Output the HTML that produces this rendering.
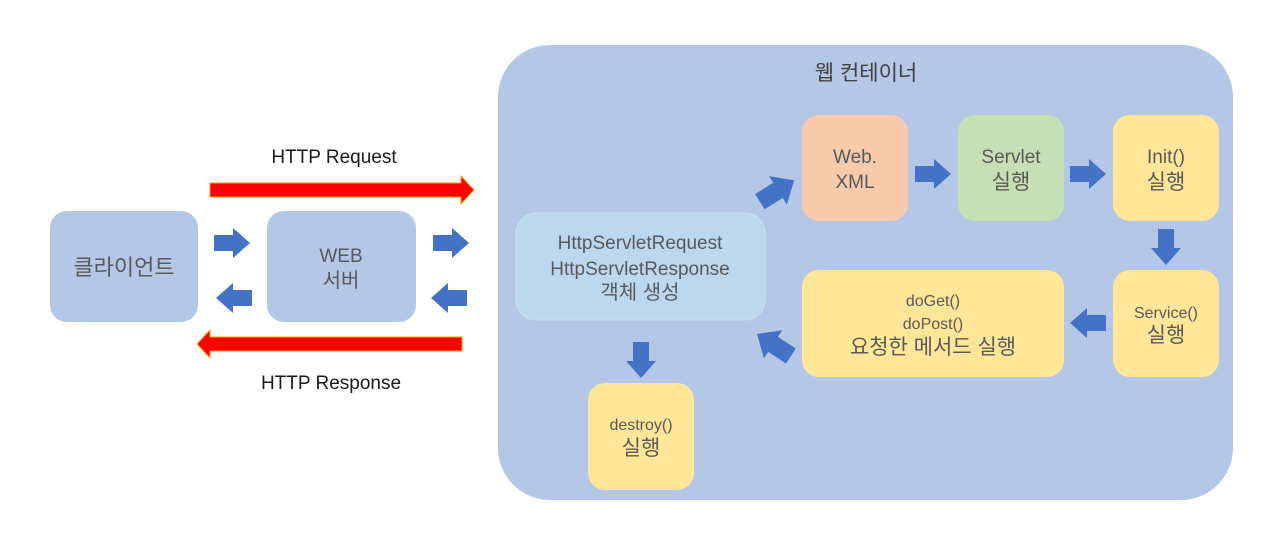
<!DOCTYPE html>
<html><head><meta charset="utf-8"><style>
html,body{margin:0;padding:0;background:#fff;width:1280px;height:545px;overflow:hidden}
text{font-family:"Liberation Sans","Noto Sans CJK KR",sans-serif;fill:#595959;text-anchor:middle}
</style></head><body>
<svg width="1280" height="545" viewBox="0 0 1280 545" xmlns="http://www.w3.org/2000/svg">
<defs>
<path id="ar" d="M-18,-8 H1 V-15 L18,0 L1,15 V8 H-18 Z" fill="#4472c4"/>
</defs>
<rect x="498" y="45" width="735" height="455" rx="52" fill="#b4c7e7"/>
<text x="866" y="80" font-size="21" style="fill:#404040">웹 컨테이너</text>

<text x="334" y="163" font-size="19" style="fill:#1a1a1a">HTTP  Request</text>
<text x="331" y="389" font-size="19" style="fill:#1a1a1a">HTTP  Response</text>
<path d="M210,183 H461 V176 L474,190 L461,204 V197 H210 Z" fill="#ff0000" stroke="#ffa000" stroke-width="1"/>
<path d="M462,337 H210 V330 L197,344 L210,358 V351 H462 Z" fill="#ff0000" stroke="#ffa000" stroke-width="1"/>

<rect x="50" y="211" width="148" height="111" rx="17" fill="#b4c7e7"/>
<text x="124" y="275" font-size="22">클라이언트</text>
<rect x="267" y="211" width="149" height="111" rx="17" fill="#b4c7e7"/>
<text x="341" y="262" font-size="19">WEB</text>
<text x="341" y="287" font-size="20">서버</text>

<use href="#ar" transform="translate(232,243)"/>
<use href="#ar" transform="translate(234,298) rotate(180)"/>
<use href="#ar" transform="translate(451,243)"/>
<use href="#ar" transform="translate(449,298) rotate(180)"/>

<rect x="516" y="213" width="249" height="107" rx="20" fill="#bdd7ee" stroke="#c9def0" stroke-width="1"/>
<text x="640" y="249" font-size="19">HttpServletRequest</text>
<text x="640" y="275" font-size="19">HttpServletResponse</text>
<text x="640" y="299" font-size="20">객체 생성</text>

<rect x="802" y="115" width="106" height="106" rx="17" fill="#f8cbad"/>
<text x="855" y="163" font-size="19">Web.</text>
<text x="855" y="188" font-size="19">XML</text>
<rect x="958" y="115" width="106" height="106" rx="17" fill="#c5e0b4"/>
<text x="1011" y="163" font-size="19">Servlet</text>
<text x="1011" y="189" font-size="21">실행</text>
<rect x="1113" y="115" width="106" height="106" rx="17" fill="#ffe699"/>
<text x="1166" y="163" font-size="19">Init()</text>
<text x="1166" y="189" font-size="21">실행</text>
<rect x="1113" y="270" width="106" height="107" rx="17" fill="#ffe699"/>
<text x="1166" y="318" font-size="16">Service()</text>
<text x="1166" y="342" font-size="21">실행</text>
<rect x="802" y="270" width="262" height="107" rx="17" fill="#ffe699"/>
<text x="933" y="306" font-size="16">doGet()</text>
<text x="933" y="329" font-size="16">doPost()</text>
<text x="933" y="354" font-size="21">요청한 메서드 실행</text>
<rect x="588" y="383" width="106" height="107" rx="17" fill="#ffe699"/>
<text x="641" y="430" font-size="16">destroy()</text>
<text x="641" y="455" font-size="21">실행</text>

<use href="#ar" transform="translate(933,174)"/>
<use href="#ar" transform="translate(1088,174)"/>
<use href="#ar" transform="translate(1166,247) rotate(90)"/>
<use href="#ar" transform="translate(1088,323) rotate(180)"/>
<use href="#ar" transform="translate(641,360) rotate(90)"/>
<use href="#ar" transform="translate(777,191) rotate(-32) scale(1.12)"/>
<use href="#ar" transform="translate(774,345) rotate(213) scale(1.12)"/>
</svg>
</body></html>
